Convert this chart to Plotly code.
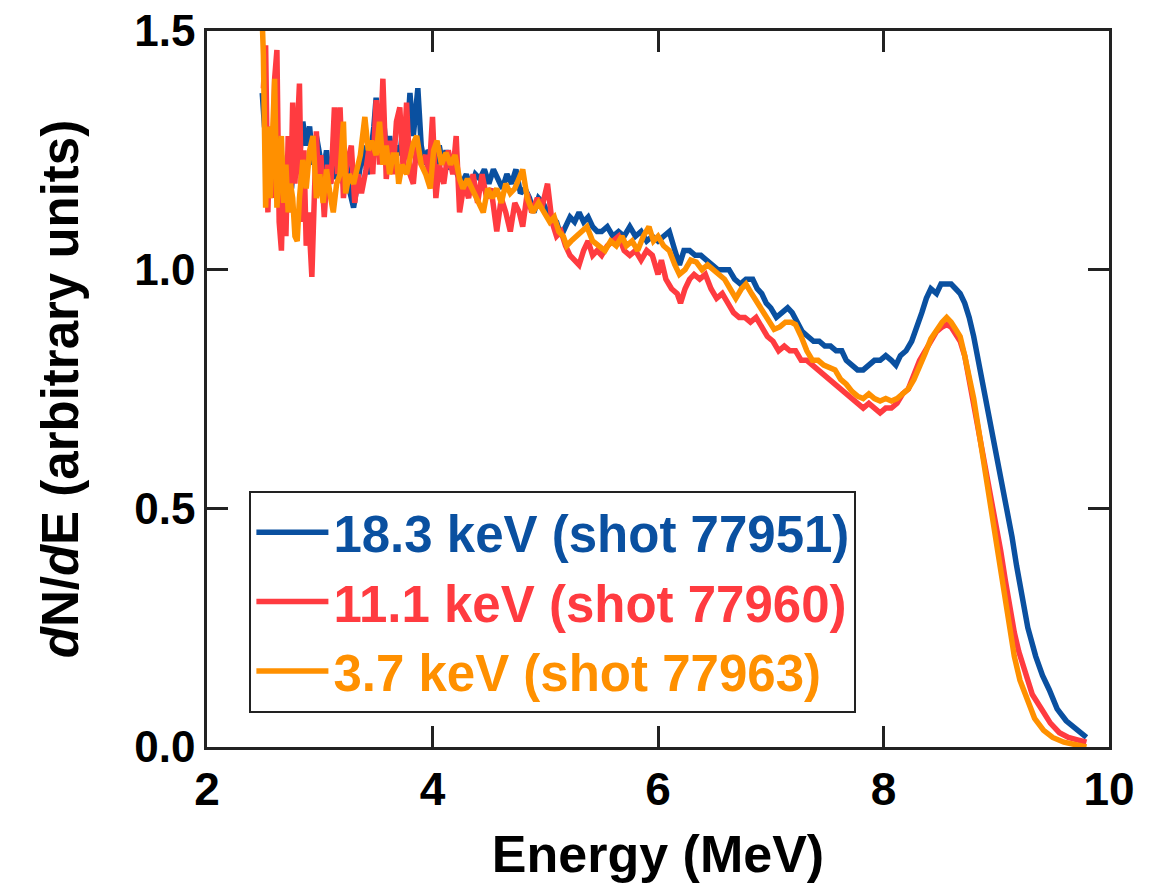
import plotly.graph_objects as go

# ---- data ----
blue_E = [2.49, 2.51, 2.54, 2.57, 2.60, 2.63, 2.66, 2.69, 2.72, 2.75, 2.78, 2.81, 2.85, 2.88, 2.91, 2.94, 2.97,
          3.00, 3.03, 3.06, 3.09, 3.12, 3.15, 3.18, 3.21, 3.24, 3.27, 3.30, 3.33, 3.36, 3.39, 3.42, 3.45, 3.48,
          3.50, 3.53, 3.56, 3.59, 3.62, 3.65, 3.68, 3.71, 3.74, 3.77, 3.80, 3.83, 3.87, 3.90, 3.93, 3.96,
          4.00, 4.03, 4.06, 4.09, 4.12, 4.15, 4.19, 4.22, 4.26, 4.30, 4.34, 4.38, 4.42, 4.46, 4.50, 4.54,
          4.58, 4.62, 4.66, 4.70, 4.74, 4.78, 4.82, 4.86, 4.90, 4.94, 4.98, 5.02, 5.06, 5.10, 5.14, 5.18,
          5.22, 5.26, 5.30, 5.34, 5.38, 5.42, 5.46, 5.50, 5.55, 5.60, 5.65, 5.70, 5.75, 5.80, 5.85, 5.90,
          5.95, 6.00, 6.05, 6.10, 6.15, 6.19, 6.23, 6.28, 6.33, 6.38, 6.43, 6.48, 6.53, 6.58, 6.63, 6.68,
          6.73, 6.78, 6.84, 6.88, 6.92, 6.96, 7.00, 7.05, 7.10, 7.15, 7.19, 7.23, 7.28, 7.33, 7.38, 7.43,
          7.48, 7.53, 7.58, 7.63, 7.67, 7.72, 7.77, 7.82, 7.87, 7.92, 7.97, 8.02, 8.07, 8.11, 8.15, 8.20,
          8.25, 8.30, 8.34, 8.38, 8.42, 8.47, 8.51, 8.55, 8.60, 8.64, 8.68, 8.72, 8.76, 8.80, 8.84, 8.88,
          8.92, 8.96, 9.00, 9.05, 9.10, 9.14, 9.18, 9.23, 9.28, 9.35, 9.41, 9.47, 9.54, 9.62, 9.70, 9.76, 9.80]
blue_N = [1.37, 1.30, 1.26, 1.22, 1.30, 1.18, 1.24, 1.15, 1.22, 1.17, 1.27, 1.21, 1.31, 1.26, 1.30, 1.22, 1.28,
          1.24, 1.20, 1.25, 1.18, 1.22, 1.19, 1.24, 1.18, 1.22, 1.16, 1.13, 1.18, 1.22, 1.26, 1.20, 1.24, 1.30,
          1.36, 1.27, 1.33, 1.25, 1.28, 1.22, 1.26, 1.24, 1.30, 1.26, 1.37, 1.28, 1.38, 1.26, 1.22, 1.25,
          1.24, 1.21, 1.26, 1.22, 1.25, 1.21, 1.24, 1.20, 1.18, 1.20, 1.17, 1.20, 1.19, 1.21, 1.18, 1.21,
          1.19, 1.17, 1.20, 1.18, 1.21, 1.16, 1.17, 1.15, 1.12, 1.15, 1.14, 1.12, 1.11, 1.10, 1.07, 1.09,
          1.11, 1.10, 1.12, 1.10, 1.11, 1.09, 1.08, 1.08, 1.09, 1.07, 1.08, 1.07, 1.09, 1.07, 1.08, 1.06,
          1.07, 1.06, 1.07, 1.08, 1.04, 1.01, 1.04, 1.04, 1.03, 1.03, 1.02, 1.01, 1.00, 1.00, 1.00, 0.98,
          0.97, 0.98, 0.98, 0.96, 0.95, 0.93, 0.92, 0.90, 0.91, 0.92, 0.91, 0.89, 0.87, 0.86, 0.85, 0.85,
          0.84, 0.84, 0.83, 0.83, 0.81, 0.80, 0.79, 0.79, 0.80, 0.81, 0.81, 0.82, 0.81, 0.80, 0.82, 0.83,
          0.85, 0.88, 0.91, 0.94, 0.96, 0.95, 0.97, 0.97, 0.97, 0.96, 0.95, 0.93, 0.90, 0.86, 0.81, 0.76,
          0.72, 0.67, 0.62, 0.56, 0.50, 0.44, 0.38, 0.31, 0.25, 0.19, 0.15, 0.12, 0.08, 0.055, 0.04, 0.03, 0.02]

red_E = [2.50, 2.52, 2.54, 2.56, 2.58, 2.60, 2.62, 2.64, 2.66, 2.68, 2.70, 2.72, 2.74, 2.76, 2.78, 2.80, 2.82,
         2.84, 2.86, 2.88, 2.90, 2.93, 2.95, 2.97, 2.99, 3.01, 3.04, 3.07, 3.10, 3.13, 3.16, 3.18, 3.21, 3.24,
         3.28, 3.31, 3.34, 3.37, 3.41, 3.44, 3.47, 3.50, 3.53, 3.56, 3.59, 3.62, 3.65, 3.68, 3.71, 3.74,
         3.77, 3.80, 3.83, 3.86, 3.90, 3.94, 3.97, 4.00, 4.03, 4.06, 4.10, 4.14, 4.18, 4.21, 4.24, 4.28,
         4.32, 4.36, 4.40, 4.44, 4.48, 4.52, 4.57, 4.61, 4.65, 4.69, 4.73, 4.77, 4.80, 4.84, 4.88, 4.93,
         4.97, 5.02, 5.06, 5.10, 5.14, 5.18, 5.22, 5.26, 5.30, 5.34, 5.38, 5.42, 5.46, 5.50, 5.55, 5.60,
         5.65, 5.70, 5.75, 5.80, 5.85, 5.90, 5.95, 6.00, 6.03, 6.07, 6.12, 6.17, 6.20, 6.24, 6.28, 6.32,
         6.37, 6.42, 6.47, 6.52, 6.57, 6.62, 6.67, 6.72, 6.77, 6.82, 6.87, 6.92, 6.97, 7.02, 7.07, 7.12,
         7.17, 7.22, 7.27, 7.32, 7.37, 7.42, 7.47, 7.52, 7.57, 7.62, 7.67, 7.72, 7.77, 7.82, 7.87, 7.92,
         7.97, 8.02, 8.07, 8.12, 8.17, 8.22, 8.27, 8.32, 8.37, 8.42, 8.47, 8.52, 8.56, 8.60, 8.64, 8.68,
         8.72, 8.76, 8.80, 8.84, 8.88, 8.92, 8.96, 9.00, 9.04, 9.08, 9.12, 9.16, 9.20, 9.26, 9.32, 9.40,
         9.48, 9.56, 9.64, 9.72, 9.80]
red_N = [1.38, 1.47, 1.12, 1.30, 1.15, 1.40, 1.46, 1.10, 1.04, 1.22, 1.07, 1.28, 1.12, 1.35, 1.18, 1.32, 1.39,
         1.10, 1.25, 1.05, 1.12, 0.985, 1.20, 1.29, 1.17, 1.24, 1.11, 1.22, 1.18, 1.34, 1.20, 1.34, 1.15, 1.22,
         1.26, 1.14, 1.20, 1.16, 1.21, 1.26, 1.20, 1.355, 1.22, 1.40, 1.19, 1.27, 1.20, 1.31, 1.34, 1.21,
         1.35, 1.20, 1.18, 1.26, 1.22, 1.24, 1.20, 1.32, 1.15, 1.22, 1.18, 1.25, 1.20, 1.28, 1.12, 1.18,
         1.15, 1.20, 1.14, 1.20, 1.15, 1.17, 1.08, 1.15, 1.12, 1.08, 1.14, 1.12, 1.09, 1.16, 1.12, 1.15,
         1.13, 1.18, 1.10, 1.07, 1.08, 1.05, 1.03, 1.02, 1.01, 1.04, 1.06, 1.03, 1.04, 1.03, 1.05, 1.06,
         1.07, 1.04, 1.03, 1.04, 1.02, 1.04, 1.03, 0.99, 1.02, 0.98, 0.96, 0.95, 0.93, 0.96, 0.98, 0.99,
         0.98, 0.99, 0.96, 0.94, 0.95, 0.93, 0.91, 0.90, 0.90, 0.89, 0.90, 0.88, 0.86, 0.85, 0.83, 0.84,
         0.83, 0.83, 0.81, 0.81, 0.80, 0.79, 0.78, 0.77, 0.76, 0.75, 0.74, 0.73, 0.72, 0.71, 0.72, 0.71,
         0.70, 0.71, 0.71, 0.72, 0.74, 0.75, 0.78, 0.81, 0.83, 0.85, 0.87, 0.88, 0.885, 0.88, 0.865, 0.85,
         0.82, 0.77, 0.72, 0.67, 0.62, 0.57, 0.52, 0.46, 0.41, 0.35, 0.29, 0.24, 0.20, 0.15, 0.11, 0.08,
         0.05, 0.03, 0.02, 0.015, 0.01]

orange_E = [2.49, 2.50, 2.52, 2.54, 2.56, 2.58, 2.60, 2.62, 2.64, 2.66, 2.68, 2.70, 2.72, 2.74, 2.76, 2.78, 2.80,
            2.82, 2.85, 2.88, 2.91, 2.94, 2.97, 3.00, 3.03, 3.06, 3.09, 3.12, 3.15, 3.18, 3.21, 3.23, 3.26,
            3.30, 3.33, 3.36, 3.40, 3.43, 3.46, 3.50, 3.53, 3.56, 3.59, 3.62, 3.65, 3.68, 3.70, 3.73, 3.77,
            3.80, 3.83, 3.86, 3.90, 3.94, 3.98, 4.01, 4.04, 4.08, 4.12, 4.16, 4.20, 4.24, 4.27, 4.31, 4.35,
            4.40, 4.45, 4.49, 4.53, 4.57, 4.61, 4.65, 4.69, 4.73, 4.77, 4.80, 4.84, 4.89, 4.94, 4.99, 5.04,
            5.08, 5.12, 5.16, 5.19, 5.23, 5.28, 5.33, 5.37, 5.42, 5.48, 5.53, 5.58, 5.63, 5.68, 5.72, 5.77,
            5.82, 5.87, 5.92, 5.96, 6.00, 6.05, 6.10, 6.15, 6.19, 6.24, 6.29, 6.34, 6.39, 6.44, 6.49, 6.54,
            6.59, 6.64, 6.69, 6.74, 6.78, 6.83, 6.88, 6.93, 6.98, 7.03, 7.08, 7.13, 7.18, 7.22, 7.27, 7.32,
            7.37, 7.42, 7.47, 7.52, 7.57, 7.62, 7.67, 7.72, 7.77, 7.82, 7.87, 7.92, 7.97, 8.02, 8.07, 8.12,
            8.17, 8.22, 8.27, 8.32, 8.37, 8.42, 8.47, 8.52, 8.56, 8.60, 8.64, 8.68, 8.72, 8.76, 8.80, 8.84,
            8.88, 8.92, 8.96, 9.00, 9.04, 9.08, 9.12, 9.16, 9.21, 9.27, 9.34, 9.42, 9.50, 9.60, 9.70, 9.80]
orange_N = [1.52, 1.45, 1.13, 1.30, 1.15, 1.28, 1.40, 1.13, 1.20, 1.28, 1.14, 1.22, 1.12, 1.18, 1.15, 1.07, 1.06,
            1.15, 1.23, 1.17, 1.25, 1.28, 1.15, 1.20, 1.14, 1.21, 1.16, 1.12, 1.18, 1.20, 1.31, 1.16, 1.20,
            1.18, 1.21, 1.24, 1.32, 1.25, 1.27, 1.24, 1.31, 1.22, 1.26, 1.20, 1.24, 1.24, 1.18, 1.22, 1.20,
            1.24, 1.265, 1.28, 1.22, 1.20, 1.17, 1.25, 1.27, 1.22, 1.245, 1.22, 1.24, 1.19, 1.17, 1.19, 1.17,
            1.15, 1.12, 1.17, 1.15, 1.17, 1.14, 1.18, 1.16, 1.17, 1.19, 1.21, 1.15, 1.12, 1.14, 1.12, 1.10,
            1.11, 1.08, 1.07, 1.05, 1.06, 1.07, 1.08, 1.09, 1.06, 1.05, 1.04, 1.06, 1.05, 1.07, 1.05, 1.06,
            1.04, 1.07, 1.09, 1.06, 1.07, 1.05, 1.04, 1.01, 0.99, 1.00, 1.02, 1.016, 1.00, 1.01, 1.00, 0.99,
            0.98, 0.96, 0.94, 0.96, 0.97, 0.95, 0.93, 0.91, 0.89, 0.875, 0.88, 0.89, 0.89, 0.885, 0.86, 0.83,
            0.81, 0.81, 0.80, 0.795, 0.79, 0.77, 0.76, 0.745, 0.735, 0.73, 0.74, 0.73, 0.725, 0.73, 0.725, 0.73,
            0.74, 0.75, 0.77, 0.795, 0.825, 0.855, 0.875, 0.89, 0.90, 0.89, 0.875, 0.86, 0.82, 0.78, 0.73, 0.67,
            0.61, 0.55, 0.48, 0.42, 0.36, 0.30, 0.24, 0.19, 0.14, 0.10, 0.06, 0.035, 0.02, 0.01, 0.005, 0.0]

series_names = ["18.3 keV (shot 77951)", "11.1 keV (shot 77960)", "3.7 keV (shot 77963)"]
series_colors = ["#0A50A0", "#FF3B40", "#FF9000"]
x_ticks = [2, 4, 6, 8, 10]
y_ticks = [0.0, 0.5, 1.0, 1.5]

FONT = "Liberation Sans, Arial, sans-serif"
AXIS_COLOR = "#222222"

fig = go.Figure()
for E, N, name, col in zip([blue_E, red_E, orange_E], [blue_N, red_N, orange_N], series_names, series_colors):
    fig.add_trace(go.Scatter(
        x=E, y=N, mode="lines", line=dict(color=col, width=5.5),
        name=f"<span style='color:{col}'><b>{name}</b></span>",
    ))

axis_common = dict(
    showline=True, linecolor=AXIS_COLOR, linewidth=2.5, mirror="allticks",
    ticks="inside", ticklen=21, tickwidth=2.5, tickcolor=AXIS_COLOR,
    showgrid=False, zeroline=False, layer="above traces", automargin=False,
)

fig.update_layout(
    width=1163, height=889,
    margin=dict(l=207, r=54, t=31, b=142),
    paper_bgcolor="white", plot_bgcolor="white",
    font=dict(family=FONT, color="black"),
    xaxis=dict(
        range=[2, 10], tickvals=x_ticks, ticktext=[f"<b>{v}</b>" for v in x_ticks],
        tickfont=dict(size=46),
        title=dict(text="<b>Energy (MeV)</b>", font=dict(size=52), standoff=22),
        **axis_common,
    ),
    yaxis=dict(
        range=[0, 1.5], tickvals=y_ticks, ticktext=[f"<b>{v:.1f}</b>" for v in y_ticks],
        tickfont=dict(size=44),
        title=dict(text="<b><i>d</i>N/<i>d</i>E (arbitrary units)</b>", font=dict(size=51), standoff=40),
        **axis_common,
    ),
    showlegend=True,
    legend=dict(
        x=0.047, y=0.358, xanchor="left", yanchor="top",
        bordercolor=AXIS_COLOR, borderwidth=2, bgcolor="white",
        font=dict(size=51), tracegroupgap=0, itemwidth=72,
    ),
)

fig.write_html("out.html")
